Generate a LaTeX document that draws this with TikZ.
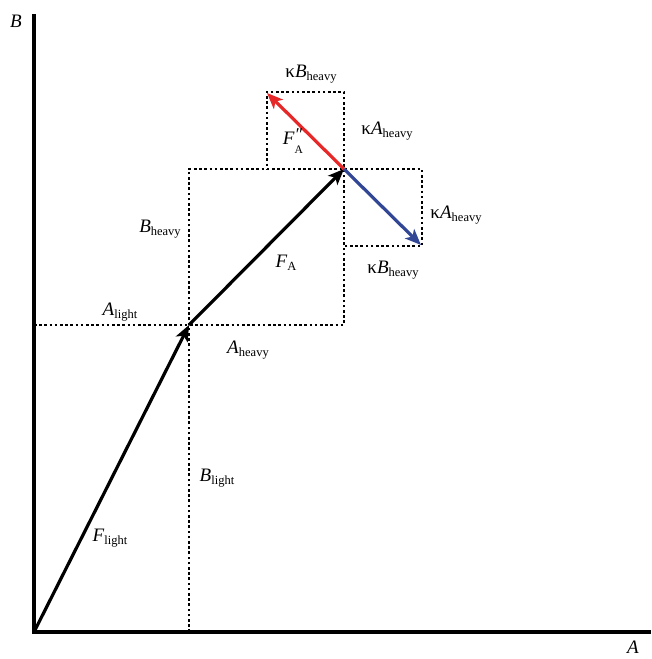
\documentclass[tikz,border=0pt]{standalone}
\usepackage{fontspec}
\setmainfont{Liberation Serif}
\usetikzlibrary{arrows.meta}
\newcommand{\lbl}[2]{\textit{#1}\raisebox{-0.35ex}{\fontsize{12.5}{12.5}\selectfont #2}}
\tikzset{
  axis/.style={line width=3.4pt},
  vec/.style={line width=3.2pt,-{Stealth[length=16pt,width=13pt,inset=4pt]}},
  dots/.style={line width=2.9pt,dash pattern=on 2.6pt off 2.6pt},
  lab/.style={font=\fontsize{19}{19}\selectfont,inner sep=1pt}
}
\definecolor{redv}{RGB}{230,40,40}
\definecolor{bluev}{RGB}{50,70,150}
\begin{document}
\begin{tikzpicture}[x=1pt,y=-1pt]
\useasboundingbox (0,0) rectangle (651,659);
\coordinate (O) at (34,632);
\coordinate (Ytop) at (34,14);
\coordinate (Xend) at (651,632);
\coordinate (P1) at (189,325);
\coordinate (P2) at (344,169);
\coordinate (R) at (267,93);
\coordinate (Bl) at (421,245);
% dotted guides
\draw[dots] (189,632) -- (189,169) -- (422,169) -- (422,246) -- (344,246);
\draw[dots] (34,325) -- (344,325) -- (344,92) -- (267,92) -- (267,169);
% axes
\draw[axis] (Ytop) -- (O) -- (Xend);
% vectors
\draw[vec] (O) -- (P1);
\draw[vec] (P1) -- (P2);
\draw[vec,redv] (P2) -- (R);
\draw[vec,bluev] (P2) -- (Bl);
% labels
\node[lab] (lB) at (16,21) {\textit{B}};
\node[lab] (lA) at (633,647) {\textit{A}};
\node[lab] (l1) at (311,74) {κ\lbl{B}{heavy}};
\node[lab] (l2) at (387,131) {κ\lbl{A}{heavy}};
\node[lab] (l3) at (293,141) {\textit{F}\raisebox{-1.0ex}{\fontsize{11.5}{10}\selectfont\shortstack[l]{{\fontsize{18}{10}\selectfont\textit{″}}\\[3pt]A}}};
\node[lab] (l4) at (456,215) {κ\lbl{A}{heavy}};
\node[lab] (l5) at (393,270) {κ\lbl{B}{heavy}};
\node[lab] (l6) at (160,229) {\lbl{B}{heavy}};
\node[lab] (l7) at (286,263) {\lbl{F}{A}};
\node[lab] (l8) at (120,312) {\lbl{A}{light}};
\node[lab] (l9) at (248,350) {\lbl{A}{heavy}};
\node[lab] (l10) at (217,478) {\lbl{B}{light}};
\node[lab] (l11) at (110,538) {\lbl{F}{light}};
\end{tikzpicture}
\end{document}
